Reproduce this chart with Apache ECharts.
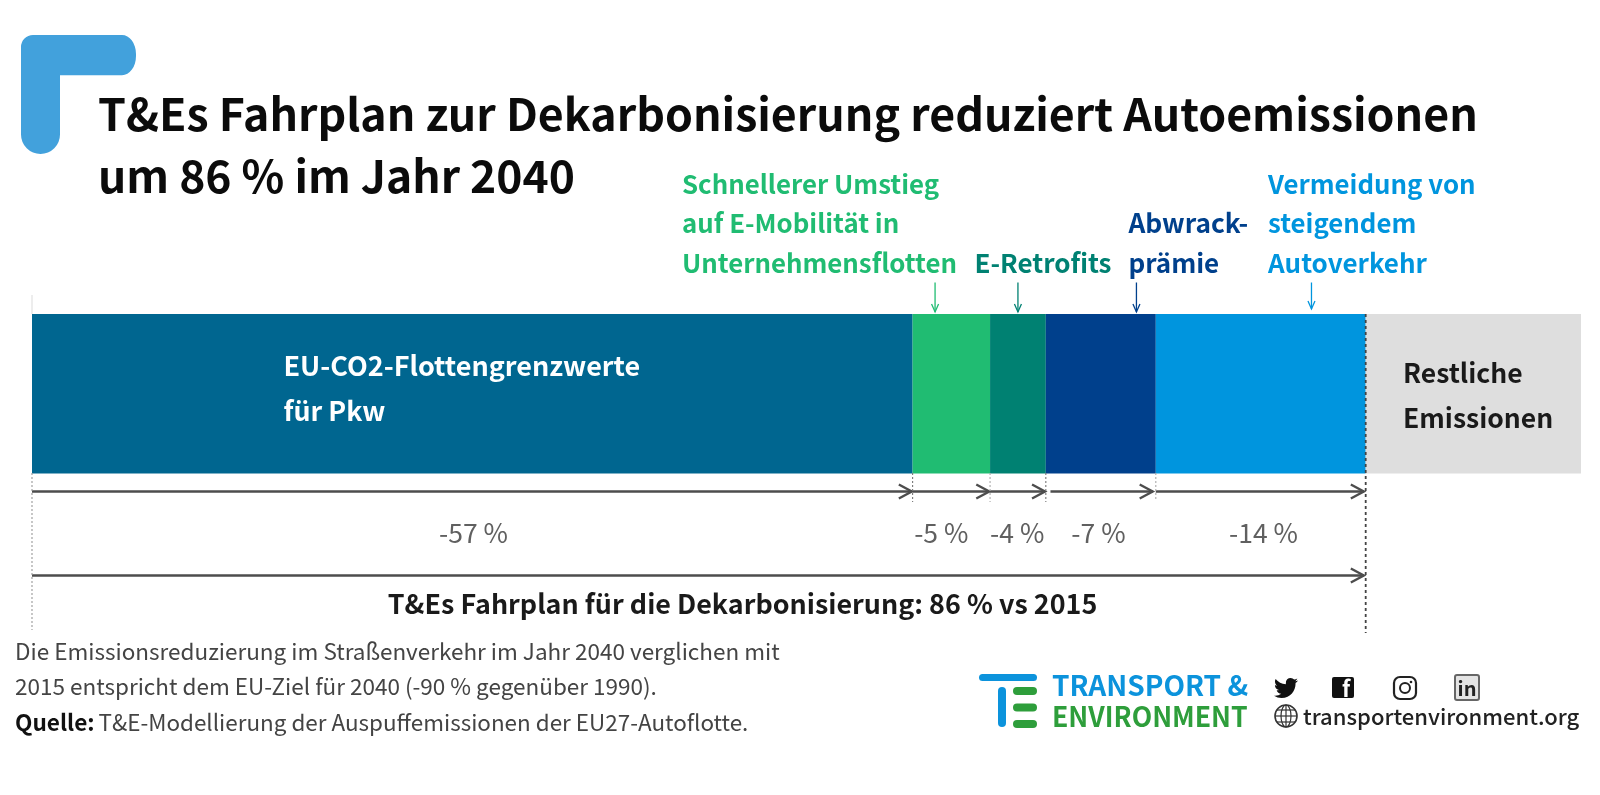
<!DOCTYPE html>
<html><head><meta charset="utf-8">
<style>html,body{margin:0;padding:0;background:#fff}#c{width:1600px;height:795px}</style>
<script src="https://cdn.jsdelivr.net/npm/echarts@6/dist/echarts.min.js"></script>
</head><body><div id="c"></div>
<script>
// Data
const segmentNames = ['EU-CO2-Flottengrenzwerte','Schnellerer Umstieg','E-Retrofits','Abwrackprämie','Vermeidung von steigendem Autoverkehr','Restliche Emissionen'];
const segmentValues = [56.85, 5.0, 3.6, 7.1, 13.55, 13.9];
const segmentColors = ['#006690','#20BC72','#008172','#00408C','#0095DE','#DEDEDE'];
const percentLabels = ['-57 %','-5 %','-4 %','-7 %','-14 %'];
const percentLabelCentres = [28.5, 58.7, 63.6, 68.85, 79.5];
const calloutTargets = [58.3, 63.65, 71.3, 82.6];
const calloutColors = ['#20BC72','#008172','#00408C','#0095DE'];

const FONT = '"Noto Sans CJK SC","Noto Sans",sans-serif';
const cum = []; segmentValues.reduce((a,v)=>{cum.push(a);return a+v;},0);
const total86 = cum[5];

function t(text,x,y,size,weight,fill,align,extra){
  return Object.assign({type:'text',x,y,z:20,silent:true,style:{text,fill,
    font:`${weight} ${size}px ${FONT}`,align:align||'left',verticalAlign:'middle'}},extra||{});
}
function rr(x,y,w,h,r,fill){return {type:'rect',z:20,silent:true,shape:{x,y,width:w,height:h,r},style:{fill}};}

const graphics = [
  t('T&Es Fahrplan zur Dekarbonisierung reduziert Autoemissionen',98,114,44.7,700,'#0b0b0b'),
  t('um 86 % im Jahr 2040',98,176,44.4,700,'#0b0b0b'),
  t('Schnellerer Umstieg',682,184,25.8,700,calloutColors[0]),
  t('auf E-Mobilität in',682,223.5,25.8,700,calloutColors[0]),
  t('Unternehmensflotten',682,263,25.8,700,calloutColors[0]),
  t('E-Retrofits',974.5,263,26,700,calloutColors[1]),
  t('Abwrack-',1128.5,223.5,26.3,700,calloutColors[2]),
  t('prämie',1128.5,263,26,700,calloutColors[2]),
  t('Vermeidung von',1268,184,25.8,700,calloutColors[3]),
  t('steigendem',1268,223.5,25.8,700,calloutColors[3]),
  t('Autoverkehr',1268,263,26,700,calloutColors[3]),
  t('EU-CO2-Flottengrenzwerte',283.5,366,27,700,'#fff'),
  t('für Pkw',283.5,411,26.8,700,'#fff'),
  t('Restliche',1403,372.5,26.5,700,'#1a1a1a'),
  t('Emissionen',1403,418,26.5,700,'#1a1a1a'),
  t('T&Es Fahrplan für die Dekarbonisierung: 86 % vs 2015',742.5,604,26.9,700,'#1a1a1a','center'),
  t('Die Emissionsreduzierung im Straßenverkehr im Jahr 2040 verglichen mit',15,651,22.5,400,'#444'),
  t('2015 entspricht dem EU-Ziel für 2040 (-90 % gegenüber 1990).',15,686.5,22.5,400,'#444'),
  t('Quelle:',15,722.5,22.6,700,'#111'),
  t('T&E-Modellierung der Auspuffemissionen der EU27-Autoflotte.',98.5,722.5,22.45,400,'#444'),
  rr(979,674,58,7,3.5,'#0C93DC'),
  rr(998,687,8,40,4,'#0C93DC'),
  rr(1013,687,24,8,4,'#2E9E3B'),
  rr(1013,703.5,24,8,4,'#2E9E3B'),
  rr(1013,720,24,8,4,'#2E9E3B'),
  t('TRANSPORT &',1052,685,28,700,'#0C93DC'),
  t('ENVIRONMENT',1052,716,28,700,'#2E9E3B','left',{scaleX:0.95}),
  rr(1332,677,22,21,2,'#111'),
  t('f',1346,689,22,700,'#fff','center'),
  {type:'rect',z:20,silent:true,shape:{x:1394,y:677,width:22,height:22,r:6},style:{fill:'none',stroke:'#222',lineWidth:2.2}},
  {type:'circle',z:20,silent:true,shape:{cx:1405,cy:688,r:5},style:{fill:'none',stroke:'#222',lineWidth:2}},
  {type:'circle',z:20,silent:true,shape:{cx:1411,cy:682,r:1.3},style:{fill:'#222'}},
  {type:'rect',z:20,silent:true,shape:{x:1455,y:675,width:24,height:25,r:2},style:{fill:'#e4e4e4',stroke:'#666',lineWidth:2}},
  t('in',1467,688,20,700,'#222','center'),
  {type:'circle',z:20,silent:true,shape:{cx:1286,cy:716,r:11},style:{fill:'none',stroke:'#333',lineWidth:1.6}},
  {type:'ellipse',z:20,silent:true,shape:{cx:1286,cy:716,rx:5,ry:11},style:{fill:'none',stroke:'#333',lineWidth:1.2}},
  {type:'line',z:20,silent:true,shape:{x1:1275,y1:716,x2:1297,y2:716},style:{stroke:'#333',lineWidth:1.2}},
  {type:'line',z:20,silent:true,shape:{x1:1277,y1:710,x2:1295,y2:710},style:{stroke:'#333',lineWidth:1.2}},
  {type:'line',z:20,silent:true,shape:{x1:1277,y1:722,x2:1295,y2:722},style:{stroke:'#333',lineWidth:1.2}},
  {type:'line',z:20,silent:true,shape:{x1:1286,y1:705,x2:1286,y2:727},style:{stroke:'#333',lineWidth:1.2}},
  t('transportenvironment.org',1303,716.5,22,500,'#222')
];

// decorative shapes (corner mark, bird icon) need the path type, which only custom series offers
const decorSeries={type:'custom',xAxisIndex:1,yAxisIndex:1,silent:true,z:5,clip:false,data:[[0,0]],
  renderItem(){
    return {type:'group',children:[
      {type:'path',shape:{pathData:'M33 35 H122 A14 19 0 0 1 136 54 V56 A14 19 0 0 1 122 75 H60 V134 A19 19 0 0 1 21 134 V47 A12 12 0 0 1 33 35 Z',layout:'cover',x:21,y:35,width:115,height:119},style:{fill:'#42A1DC'}},
      {type:'path',shape:{pathData:'M23.953 4.57 c-.88.39 -1.83.66 -2.825.775 c1.015-.61 1.795-1.57 2.163-2.723 c-.951.555 -2.005.959 -3.127 1.184 a4.92 4.92 0 0 0 -8.384 4.482 C7.69 8.095 4.067 6.13 1.64 3.162 a4.822 4.822 0 0 0 -.666 2.475 c0 1.71 .87 3.213 2.188 4.096 a4.904 4.904 0 0 1 -2.228 -.616 v.06 a4.923 4.923 0 0 0 3.946 4.827 a4.996 4.996 0 0 1 -2.212 .085 a4.936 4.936 0 0 0 4.604 3.417 a9.867 9.867 0 0 1 -6.102 2.105 c-.39 0 -.779 -.023 -1.17 -.067 a13.995 13.995 0 0 0 7.557 2.209 c9.053 0 13.998 -7.496 13.998 -13.985 c0 -.21 0 -.42 -.015 -.63 A9.935 9.935 0 0 0 24 4.59 z',layout:'cover',x:1274,y:678,width:24,height:20},style:{fill:'#111'}}
    ]};
  }};

const pctSeries = {type:'scatter',xAxisIndex:1,yAxisIndex:1,symbolSize:0,silent:true,z:15,
  data:percentLabels.map((s,i)=>({value:[percentLabelCentres[i],533],label:{formatter:s}})),
  label:{show:true,position:'inside',color:'#383838',fontFamily:FONT,fontSize:26.5,fontWeight:400}};

const barSeries = segmentNames.map((n,i)=>({type:'bar',name:n,stack:'all',barWidth:'100%',silent:true,
  data:[segmentValues[i]],itemStyle:{color:segmentColors[i]},z:2}));

const arrows = [];
const gaps=[0,0,0,0.3,0];
for(let i=0;i<5;i++){ arrows.push([cum[i]+gaps[i],cum[i]+segmentValues[i]-(i===3?0.2:i===4?0.12:0.05),491.5]); }
arrows.push([0,total86-0.12,575.5]);

function arrowItem(params,api){
  const a=api.coord([api.value(0),api.value(2)]),b=api.coord([api.value(1),api.value(2)]);
  const s={stroke:'#4d4d4d',lineWidth:2.4,fill:'none'};
  return {type:'group',children:[
    {type:'line',shape:{x1:a[0],y1:a[1],x2:b[0],y2:b[1]},style:s},
    {type:'polyline',shape:{points:[[b[0]-13,b[1]-7],[b[0],b[1]],[b[0]-13,b[1]+7]]},style:s}
  ]};
}
const arrowSeries={type:'custom',xAxisIndex:1,yAxisIndex:1,silent:true,z:10,renderItem:arrowItem,clip:false,data:arrows};

const calloutSeries={type:'custom',xAxisIndex:1,yAxisIndex:1,silent:true,z:10,clip:false,
  data:calloutTargets.map((x,i)=>[x,i]),
  renderItem(params,api){
    const i=api.value(1),top=api.coord([api.value(0),282.5]),bot=api.coord([api.value(0),i===3?309:312]);
    const s={stroke:calloutColors[i],lineWidth:1.3,fill:'none'};
    return {type:'group',children:[
      {type:'line',shape:{x1:top[0],y1:top[1],x2:bot[0],y2:bot[1]},style:s},
      {type:'polyline',shape:{points:[[bot[0]-3.5,bot[1]-8],[bot[0],bot[1]],[bot[0]+3.5,bot[1]-8]]},style:s}
    ]};
  }};

const boundaries=[[0,473,630,'#999'],[cum[1],473,502,'#777'],[cum[2],473,502,'#aaa'],[cum[3],473,502,'#777'],[cum[4],473,500,'#aaa'],[cum[5],314,633,'#444']];
const dashSeries={type:'custom',xAxisIndex:1,yAxisIndex:1,silent:true,z:11,clip:false,
  data:boundaries.map((b,i)=>[b[0],b[1],b[2],i]),
  renderItem(params,api){
    const i=api.value(3),p=api.coord([api.value(0),api.value(1)]),q=api.coord([api.value(0),api.value(2)]);
    return {type:'line',shape:{x1:p[0],y1:p[1],x2:q[0],y2:q[1]},
      style:{stroke:boundaries[i][3],lineWidth:i===5?1.8:1.1,lineDash:i===5?[3,3]:[2,2]}};
  }};
const leadSeries={type:'custom',xAxisIndex:1,yAxisIndex:1,silent:true,z:1,clip:false,
  data:[[0,295,314]],
  renderItem(params,api){
    const p=api.coord([0,api.value(1)]),q=api.coord([0,api.value(2)]);
    return {type:'line',shape:{x1:p[0],y1:p[1],x2:q[0],y2:q[1]},style:{stroke:'#e6e6e6',lineWidth:1.4}};
  }};

const chart=echarts.init(document.getElementById('c'),null,{renderer:'canvas'});
chart.setOption({
  animation:false,backgroundColor:'#fff',
  grid:[{left:32,top:314,width:1549,height:159.5},{left:32,top:0,width:1549,height:795}],
  xAxis:[{type:'value',gridIndex:0,min:0,max:100,show:false},{type:'value',gridIndex:1,min:0,max:100,show:false}],
  yAxis:[{type:'category',gridIndex:0,data:['2040'],show:false},{type:'value',gridIndex:1,min:0,max:795,inverse:true,show:false}],
  series:[...barSeries,decorSeries,leadSeries,arrowSeries,calloutSeries,dashSeries,pctSeries],
  graphic:graphics
});
</script></body></html>
